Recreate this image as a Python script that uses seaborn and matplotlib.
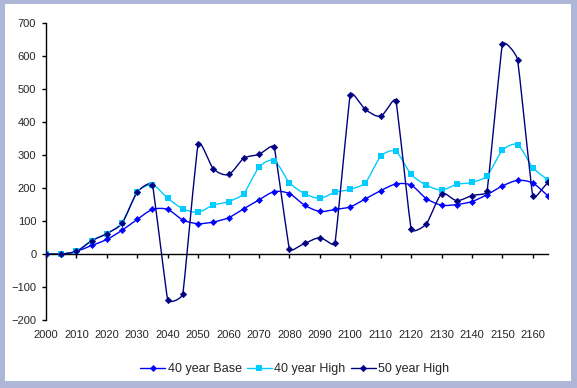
import numpy as np
import seaborn as sns
import matplotlib.pyplot as plt
from matplotlib.path import Path
from matplotlib.patches import PathPatch, Rectangle
from matplotlib.lines import Line2D

years = [2000, 2005, 2010, 2015, 2020, 2025, 2030, 2035, 2040, 2045,
         2050, 2055, 2060, 2065, 2070, 2075, 2080, 2085, 2090, 2095,
         2100, 2105, 2110, 2115, 2120, 2125, 2130, 2135, 2140, 2145,
         2150, 2155, 2160, 2165]
base_40 = [0, 0, 8, 26, 44, 72, 105, 135, 135, 103,
           92, 97, 110, 137, 164, 189, 183, 148, 129, 135,
           143, 167, 192, 212, 209, 168, 148, 150, 159, 180,
           206, 223, 215, 176]
high_40 = [0, 0, 8, 40, 62, 93, 188, 209, 169, 137,
           127, 148, 159, 183, 263, 283, 216, 183, 169, 187,
           196, 216, 296, 311, 241, 209, 194, 211, 217, 237,
           314, 331, 262, 224]
high_50 = [0, 0, 8, 40, 62, 93, 188, 209, -139, -121,
           332, 258, 241, 290, 302, 323, 16, 32, 49, 32,
           483, 438, 418, 464, 75, 91, 182, 162, 177, 191,
           635, 589, 176, 217]
series_names = ['40 year Base', '40 year High', '50 year High']
x_ticks = [2000, 2010, 2020, 2030, 2040, 2050, 2060, 2070, 2080,
           2090, 2100, 2110, 2120, 2130, 2140, 2150, 2160]
y_ticks = [-200, -100, 0, 100, 200, 300, 400, 500, 600, 700]

# pixels per data unit on screen, used to shape the smoothed curves
SX = 502 / 165
SY = 297 / 900


def smooth_path(x, y, k=0.3):
    # Excel style smoothed line: bezier handles limited by the shorter
    # of the two segments meeting at each point
    pts = np.column_stack([np.asarray(x) * SX, np.asarray(y) * SY]).astype(float)
    n = len(pts)
    seg = np.hypot(*np.diff(pts, axis=0).T)

    tang = []
    for i in range(n):
        d = pts[min(i + 1, n - 1)] - pts[max(i - 1, 0)]
        d = d / np.hypot(*d)
        near = [seg[j] for j in (i - 1, i) if 0 <= j < n - 1]
        tang.append(d * k * min(near))

    verts = [pts[0]]
    codes = [Path.MOVETO]
    for i in range(n - 1):
        verts += [pts[i] + tang[i], pts[i + 1] - tang[i + 1], pts[i + 1]]
        codes += [Path.CURVE4] * 3
    verts = np.array(verts) / [SX, SY]
    return Path(verts, codes)


sns.set_style("white")
plt.rcParams['font.family'] = ['Liberation Sans', 'DejaVu Sans']
plt.rcParams['font.size'] = 8

fig = plt.figure(figsize=(5.77, 3.88), dpi=100)
fig.patch.set_facecolor('#AFB7D8')
fig.patches.append(Rectangle((5 / 577, 7 / 388), 566 / 577, 377 / 388,
                             transform=fig.transFigure, facecolor='white',
                             edgecolor='none', zorder=-10))
ax = fig.add_axes([46 / 577, 1 - 320 / 388, 502 / 577, 297 / 388])
ax.set_facecolor('none')

styles = [
    (base_40, '#0000FF', 'D', 10, 0.4),
    (high_40, '#00CCFF', 's', 24, 0.0),
    (high_50, '#000080', 'D', 11, 0.4),
]
handles = []
for (vals, color, marker, size, ew), name in zip(styles, series_names):
    ax.add_patch(PathPatch(smooth_path(years, vals), fill=False,
                           edgecolor=color, lw=1.0, zorder=2))
    sns.scatterplot(x=years, y=vals, marker=marker, s=size, color=color,
                    edgecolor=color, linewidth=ew, ax=ax, zorder=3)
    handles.append(Line2D([], [], color=color, lw=1.0, marker=marker,
                          markersize=np.sqrt(size), markeredgewidth=ew,
                          markeredgecolor=color, label=name))

ax.set_xlim(2000, 2165)
ax.set_ylim(-200, 700)
ax.set_xticks(x_ticks)
ax.set_yticks(y_ticks)
ax.spines['top'].set_visible(False)
ax.spines['right'].set_visible(False)
ax.spines['bottom'].set_position(('data', 0))
for side in ['left', 'bottom']:
    ax.spines[side].set_color('black')
    ax.spines[side].set_linewidth(1.0)
ax.tick_params(axis='x', direction='out', length=3, width=1, color='black',
               pad=52, labelsize=8, bottom=True)
ax.tick_params(axis='y', direction='out', length=3, width=1, color='black',
               pad=4, labelsize=8, left=True)
ax.grid(False)

fig.legend(handles=handles, loc='center', bbox_to_anchor=(0.511, 0.049),
           ncol=3, frameon=False, fontsize=9, handlelength=2.0,
           handletextpad=0.2, columnspacing=0.4)

fig.savefig('out.png', dpi=100, facecolor=fig.get_facecolor())
